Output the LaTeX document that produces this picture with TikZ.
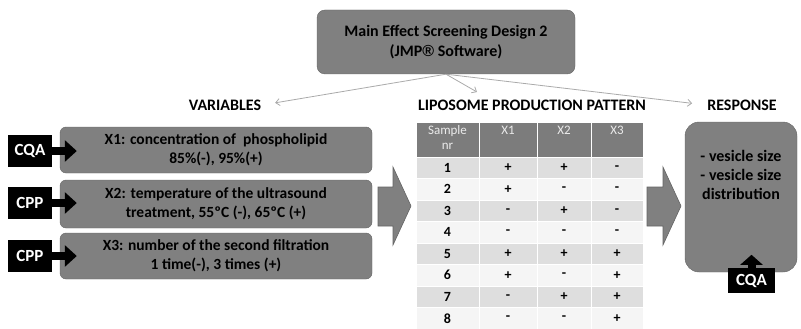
\documentclass[tikz,border=0pt]{standalone}
\usepackage{fontspec}
\setmainfont{Carlito}
\newfontfamily\regfont{Liberation Sans}
\usetikzlibrary{arrows.meta, positioning}

\definecolor{boxgray}{RGB}{128,128,128}
\definecolor{edgegray}{RGB}{100,100,100}
\definecolor{headgray}{RGB}{124,124,124}
\definecolor{rowdark}{RGB}{222,222,222}
\definecolor{rowlight}{RGB}{245,245,245}
\definecolor{linkgray}{RGB}{170,170,170}

\begin{document}
\begin{tikzpicture}[x=1pt, y=-1pt]
    \tikzstyle{varbox}=[draw=edgegray, fill=boxgray, rounded corners=6pt, minimum width=312pt, inner sep=0pt, align=center, font=\fontsize{15.5}{19}\selectfont\bfseries]
    \tikzstyle{tagbox}=[fill=black, text=white, minimum width=44pt, minimum height=32pt, inner sep=0pt, font=\fontsize{17}{19}\selectfont\bfseries]
    \tikzstyle{title}=[inner sep=1pt, font=\fontsize{16}{18}\selectfont\bfseries]
    \tikzstyle{link}=[draw=linkgray, line width=0.8pt, -{Straight Barb[length=4pt, width=7pt]}]
    \tikzstyle{push}=[draw=black, line width=8pt, -{Triangle[length=12pt, width=21pt]}]
    \tikzstyle{blockarrow}=[draw=edgegray, fill=boxgray, line width=0.6pt]
    \tikzstyle{headcell}=[draw=white, fill=headgray, line width=1pt, minimum height=35pt, inner sep=0pt]
    \tikzstyle{headtext}=[text=white!92!black, align=center, inner sep=0pt, font=\fontsize{13}{15}\selectfont]
    \tikzstyle{cell}=[draw=white, line width=1pt, minimum height=21.5pt, inner sep=0pt, font=\fontsize{14}{16}\selectfont\bfseries]

    \useasboundingbox (0,0) rectangle (801,329);

    % design box and headings
    \node[varbox, rounded corners=8pt, minimum width=258pt, minimum height=64pt, font=\fontsize{16}{20}\selectfont\bfseries] (design) at (446,42) {Main Effect Screening Design 2\\(JMP{\regfont ®} Software)};
    \node[title] (vars) at (225,105) {VARIABLES};
    \node[title] (pattern) at (532,105) {LIPOSOME PRODUCTION PATTERN};
    \node[title] (resp) at (742,105) {RESPONSE};
    \coordinate (patternIn) at (477,92);

    \draw[link, shorten >=13pt] (design.south) -- (vars.east);
    \draw[link] (design.south) -- (patternIn);
    \draw[link, shorten >=14pt] (design.south) -- (resp.west);

    % variables
    \node[varbox, minimum height=46pt] (varA) at (216,150) {X1: concentration of\ \ phospholipid\\85\%(-), 95\%(+)};
    \node[varbox, minimum height=48pt] (varB) at (216,204) {X2: temperature of the ultrasound\\treatment, 55ºC (-), 65ºC (+)};
    \node[varbox, minimum height=46pt] (varC) at (216,256) {X3: number of the second filtration\\1 time(-), 3 times (+)};

    \node[tagbox] (tagA) at (30,151) {CQA};
    \node[tagbox] (tagB) at (30,203) {CPP};
    \node[tagbox] (tagC) at (30,256) {CPP};

    \draw[push] (tagA.east) -- ([xshift=17pt]varA.west |- tagA.east);
    \draw[push] (tagB.east) -- ([xshift=17pt]varB.west |- tagB.east);
    \draw[push] (tagC.east) -- ([xshift=17pt]varC.west |- tagC.east);

    \fill[blockarrow] (378,187) -- (393,187) -- (393,167) -- (411,206) -- (393,245) -- (393,226) -- (378,226) -- cycle;

    % production pattern table
    \foreach \c/\cx/\cw/\txt in {1/447.5/63/{Sample\\nr}, 2/508/58/X1, 3/564/54/X2, 4/617/52/X3} {
        \node[headcell, minimum width=\cw pt] (head\c) at (\cx,139.5) {};
        \node[headtext, below=4pt of head\c.north] {\txt};
    }
    \foreach \r/\fc/\a/\b/\c [evaluate=\r as \ry using 157+(\r-0.5)*21.5] in
        {1/rowdark/+/+/-, 2/rowlight/+/-/-, 3/rowdark/-/+/-, 4/rowlight/-/-/-,
         5/rowdark/+/+/+, 6/rowlight/+/-/+, 7/rowdark/-/+/+, 8/rowlight/-/-/+} {
        \node[cell, fill=\fc, minimum width=63pt] (cell\r-1) at (447.5,\ry) {\r};
        \node[cell, fill=\fc, minimum width=58pt] (cell\r-2) at (508,\ry) {\a};
        \node[cell, fill=\fc, minimum width=54pt] (cell\r-3) at (564,\ry) {\b};
        \node[cell, fill=\fc, minimum width=52pt] (cell\r-4) at (617,\ry) {\c};
    }

    \fill[blockarrow] (647,187) -- (663,187) -- (663,167) -- (681,206) -- (663,245) -- (663,226) -- (647,226) -- cycle;

    % response
    \node[varbox, rounded corners=14pt, minimum width=112pt, minimum height=150pt] (respBox) at (741,197) {};
    \node[title, align=center, font=\fontsize{16}{19}\selectfont\bfseries, below=27pt of respBox.north] (respText) {- vesicle size\\- vesicle size\\distribution};
    \node[tagbox, minimum width=47pt, minimum height=25pt] (tagD) at (751.5,280.5) {CQA};
    \draw[push, -{Triangle[length=10pt, width=22pt]}] (tagD.north) -- ++(0,-13);
\end{tikzpicture}
\end{document}
